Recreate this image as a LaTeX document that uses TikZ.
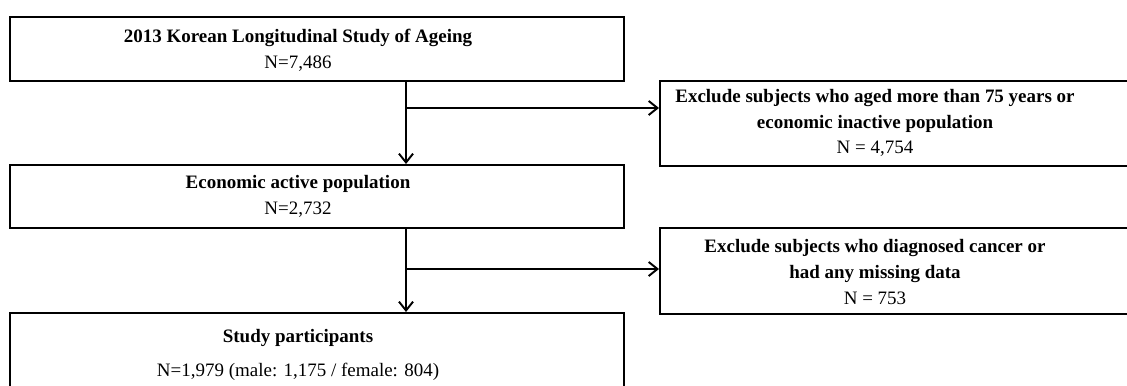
\documentclass[tikz,border=0pt]{standalone}
\usepackage{fontspec}
\setmainfont{Liberation Serif}
\usetikzlibrary{arrows.meta}
\tikzstyle{stage} = [
    rectangle,
    draw=black,
    line width=1.1pt,
    anchor=north west,
    minimum width=12.28cm,
    inner sep=0pt
]
\tikzstyle{exclude} = [
    rectangle,
    draw=black,
    line width=1.1pt,
    anchor=north west,
    minimum width=10cm,
    inner sep=0pt
]
\tikzstyle{boxtext} = [
    align=center,
    inner sep=0pt,
    font=\fontsize{10.8}{14.7}\selectfont
]
\tikzstyle{arrow} = [
    line width=1.1pt,
    -{Straight Barb[length=5pt,width=8pt]}
]

\begin{document}
\begin{tikzpicture}
                \useasboundingbox (0,0) rectangle (22.54,7.7);
                \clip (0,0) rectangle (22.54,7.7);

                % boxes
                \node (kloSA)        [stage, minimum height=1.28cm]   at (0.18,7.38) {};
                \node (econActive)   [stage, minimum height=1.26cm]   at (0.18,4.42) {};
                \node (participants) [stage, minimum height=2.2cm]    at (0.18,1.46) {};
                \node (exclAge)      [exclude, minimum height=1.7cm]  at (13.18,6.1) {};
                \node (exclCancer)   [exclude, minimum height=1.72cm] at (13.18,3.16) {};

                % texts
                \node (kloSAText)        [boxtext] at (5.96,6.70) {\textbf{2013 Korean Longitudinal Study of Ageing}\\N=7,486};
                \node (econActiveText)   [boxtext] at (5.96,3.77) {\textbf{Economic active population}\\N=2,732};
                \node (participantsText) [boxtext] at (5.96,0.60) {\textbf{Study participants}\\[5pt]N=1,979 (male: 1,175 / female: 804)};
                \node (exclAgeText)      [boxtext] at (17.5,5.24) {\textbf{Exclude subjects who aged more than 75 years or}\\\textbf{economic inactive population}\\N = 4,754};
                \node (exclCancerText)   [boxtext] at (17.5,2.26) {\textbf{Exclude subjects who diagnosed cancer or}\\\textbf{had any missing data}\\N = 753};

                % trunk and branches
                \coordinate (trunk)   at (8.12,0);
                \coordinate (branchA) at (8.12,5.54);
                \coordinate (branchB) at (8.12,2.32);

                \draw [arrow] (kloSA.south -| trunk)      --  (econActive.north -| trunk);
                \draw [arrow] (econActive.south -| trunk) --  (participants.north -| trunk);
                \draw [arrow] (branchA)                   --  (branchA -| exclAge.west);
                \draw [arrow] (branchB)                   --  (branchB -| exclCancer.west);

\end{tikzpicture}
\end{document}
